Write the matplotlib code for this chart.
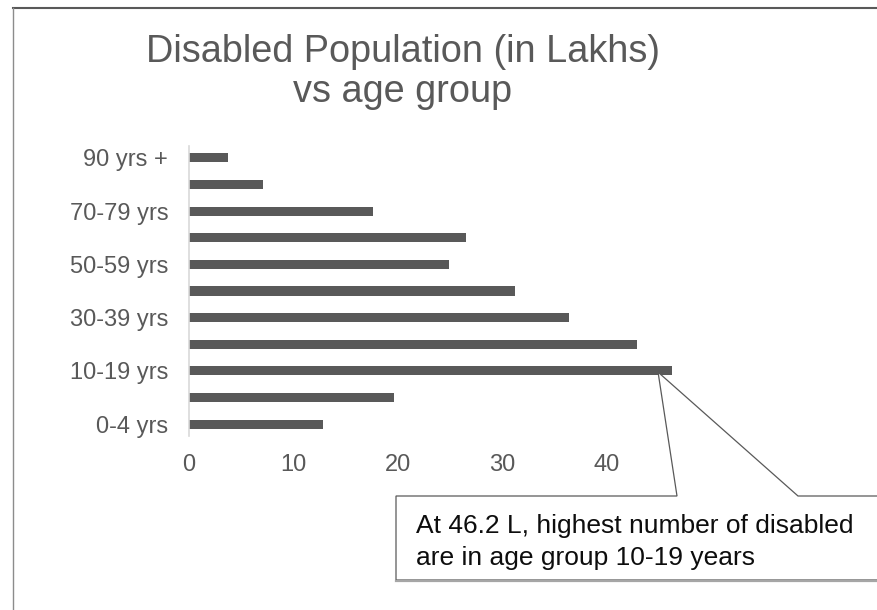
import matplotlib
matplotlib.use("Agg")
import matplotlib.pyplot as plt
from matplotlib.patches import Polygon
from matplotlib.lines import Line2D

plt.rcParams['font.family'] = ['Liberation Sans', 'DejaVu Sans']

categories = ["0-4 yrs", "5-9 yrs", "10-19 yrs", "20-29 yrs", "30-39 yrs", "40-49 yrs",
              "50-59 yrs", "60-69 yrs", "70-79 yrs", "80-89 yrs", "90 yrs +"]
values = [12.8, 19.6, 46.2, 42.9, 36.4, 31.2, 24.9, 26.5, 17.6, 7.1, 3.7]
x_ticks = [0, 10, 20, 30, 40]
title_lines = ["Disabled Population (in Lakhs)", "vs age group"]
note_lines = ["At 46.2 L, highest number of disabled", "are in age group 10-19 years"]

W, H = 877, 610
fig = plt.figure(figsize=(W / 100, H / 100), dpi=100)

def fx(px):
    return px / W

def fy(py):
    return 1 - py / H

# axes placement
ax = fig.add_axes([fx(189), fy(436), fx(680) - fx(189), fy(146) - fy(436)])
ypos = list(range(len(categories)))
ax.barh(ypos, values, height=0.34, color="#595959", left=0)
ax.set_xlim(0, 47)
ax.set_ylim(-0.45, len(categories) - 0.55)
ax.set_yticks(ypos)
ax.set_yticklabels([c if i % 2 == 0 else "" for i, c in enumerate(categories)])
ax.set_xticks(x_ticks)
ax.set_xticklabels([str(t) for t in x_ticks])
ax.tick_params(axis='both', length=0, labelsize=17, labelcolor="#595959")
ax.tick_params(axis='x', pad=13)
ax.tick_params(axis='y', pad=15)
for s in ["top", "right", "bottom"]:
    ax.spines[s].set_visible(False)
ax.spines["left"].set_color("#d9d9d9")
ax.spines["left"].set_linewidth(1.2)

# title
fig.text(fx(403), fy(62), title_lines[0], ha="center", va="baseline",
         fontsize=27.3, color="#595959")
fig.text(fx(403), fy(102), title_lines[1], ha="center", va="baseline",
         fontsize=27.3, color="#595959")

# frame lines of the chart area
fig.add_artist(Line2D([fx(13), 1.0], [fy(8), fy(8)], transform=fig.transFigure,
                      color="#595959", lw=1.5))
fig.add_artist(Line2D([fx(13), fx(13)], [fy(8), 0.0], transform=fig.transFigure,
                      color="#8c8c8c", lw=1.0))

# callout pointing at the largest bar
imax = values.index(max(values))
tip_disp = ax.transData.transform((values[imax] - 1.3, imax - 0.05))
tip = fig.transFigure.inverted().transform(tip_disp)
pts = [(1.01, fy(496)), (fx(798), fy(496)), (tip[0], tip[1]), (fx(677), fy(496)),
       (fx(396), fy(496)), (fx(396), fy(580)), (1.01, fy(580))]
poly = Polygon(pts, closed=True, transform=fig.transFigure, facecolor="white",
               edgecolor="#595959", lw=0.9, clip_on=False)
fig.add_artist(poly)
fig.add_artist(Line2D([fx(396), 1.0], [fy(580.5), fy(580.5)], transform=fig.transFigure,
                      color="#a6a6a6", lw=1.6))

fig.text(fx(416), fy(533), note_lines[0], ha="left", va="baseline", fontsize=19, color="#0d0d0d")
fig.text(fx(416), fy(565), note_lines[1], ha="left", va="baseline", fontsize=19, color="#0d0d0d")

fig.savefig("out.png", dpi=100, facecolor="white")
